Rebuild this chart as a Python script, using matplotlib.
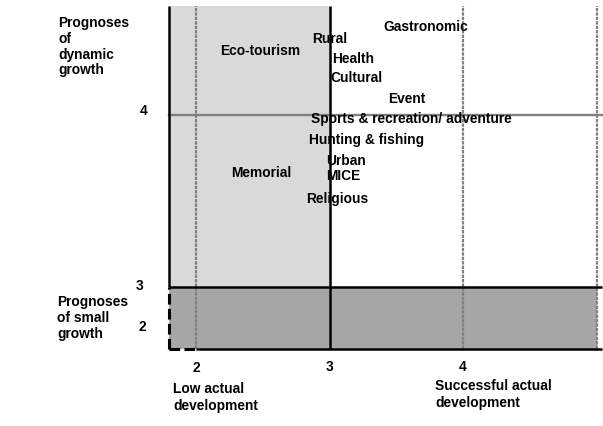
import matplotlib
matplotlib.use("Agg")
import matplotlib.pyplot as plt

plt.rcParams['font.family'] = ['Liberation Sans', 'DejaVu Sans']
plt.rcParams['font.weight'] = 'bold'

# ---- data ----
categories = ["Gastronomic", "Rural", "Eco-tourism", "Health", "Cultural", "Event",
              "Sports & recreation/ adventure", "Hunting & fishing", "Urban",
              "Memorial", "MICE", "Religious"]
actual_dev = [3.72, 3.00, 2.48, 3.18, 3.20, 3.58, 3.61, 3.28, 3.12, 2.49, 3.10, 3.06]
prognosis = [4.52, 4.45, 4.38, 4.33, 4.22, 4.10, 3.98, 3.86, 3.74, 3.67, 3.65, 3.52]

x_ticks = [2, 3, 4]
x_tick_labels = ["2", "3", "4"]
y_tick_labels = ["4", "3", "2"]
x_limits = (1.794, 5.041)
y_limits = (2.64, 4.634)

W, H = 603, 427
fig = plt.figure(figsize=(W / 100, H / 100), dpi=100)
left_px, right_px, top_px, bot_px = 168.5, 602, 7, 350
ax = fig.add_axes([left_px / W, 1 - bot_px / H, (right_px - left_px) / W, (bot_px - top_px) / H])
ax.set_xlim(*x_limits)
ax.set_ylim(*y_limits)
ax.axis('off')

xmin, xmax = x_limits
ymin, ymax = y_limits

# shaded areas
ax.fill_between([xmin, 3], 3, ymax, color='#d9d9d9', lw=0, zorder=0)
ax.fill_between([xmin, 5], ymin, 3, color='#a6a6a6', lw=0, zorder=0)

gray = '#808080'
# gray grid lines
for xv in [2, 4, 5]:
    ax.plot([xv, xv], [ymin, ymax], color=gray, lw=1.6, ls=(0, (1.5, 0.5)), zorder=1, clip_on=False)
ax.plot([xmin, xmax], [4, 4], color=gray, lw=1.7, zorder=1, clip_on=False)

# black lines
blk = dict(color='black', lw=1.8, zorder=3, clip_on=False, solid_capstyle='butt')
ax.plot([3, 3], [ymin, ymax], **blk)
ax.plot([xmin, xmax], [3, 3], **blk)
ax.plot([2, xmax], [ymin, ymin], **blk)
ax.plot([xmin, xmin], [3, ymax], **blk)
ax.plot([xmin, xmin], [ymin, 3], color='black', lw=2.2, ls=(0, (3.5, 1.4)), zorder=3, clip_on=False)
ax.plot([xmin, 2], [ymin, ymin], color='black', lw=2.2, ls=(0, (3.5, 1.4)), zorder=3, clip_on=False)

fs = 9.9
for name, xv, yv in zip(categories, actual_dev, prognosis):
    ax.text(xv, yv, name, ha='center', va='center', fontsize=fs, fontweight='bold', zorder=4)


def ftext(px, py, s, **kw):
    fig.text(px / W, 1 - py / H, s, fontsize=fs, fontweight='bold', **kw)

# x tick labels
for xv, lab, py in zip(x_ticks, x_tick_labels, [368, 367, 367]):
    ftext(196 + (xv - 2) * 133.5, py, lab, ha='center', va='center')

# y tick labels
ftext(144, 111, y_tick_labels[0], ha='center', va='center')
ftext(140, 286, y_tick_labels[1], ha='center', va='center')
ftext(142.5, 327, y_tick_labels[2], ha='center', va='center')

# axis descriptions
ftext(58, 16.0, "Prognoses\nof\ndynamic\ngrowth", ha='left', va='top', linespacing=1.16)
ftext(57, 295.5, "Prognoses\nof small\ngrowth", ha='left', va='top', linespacing=1.16)
ftext(173, 382.5, "Low actual\ndevelopment", ha='left', va='top', linespacing=1.25)
ftext(435, 379.5, "Successful actual\ndevelopment", ha='left', va='top', linespacing=1.25)

fig.savefig("out.png", dpi=100)
